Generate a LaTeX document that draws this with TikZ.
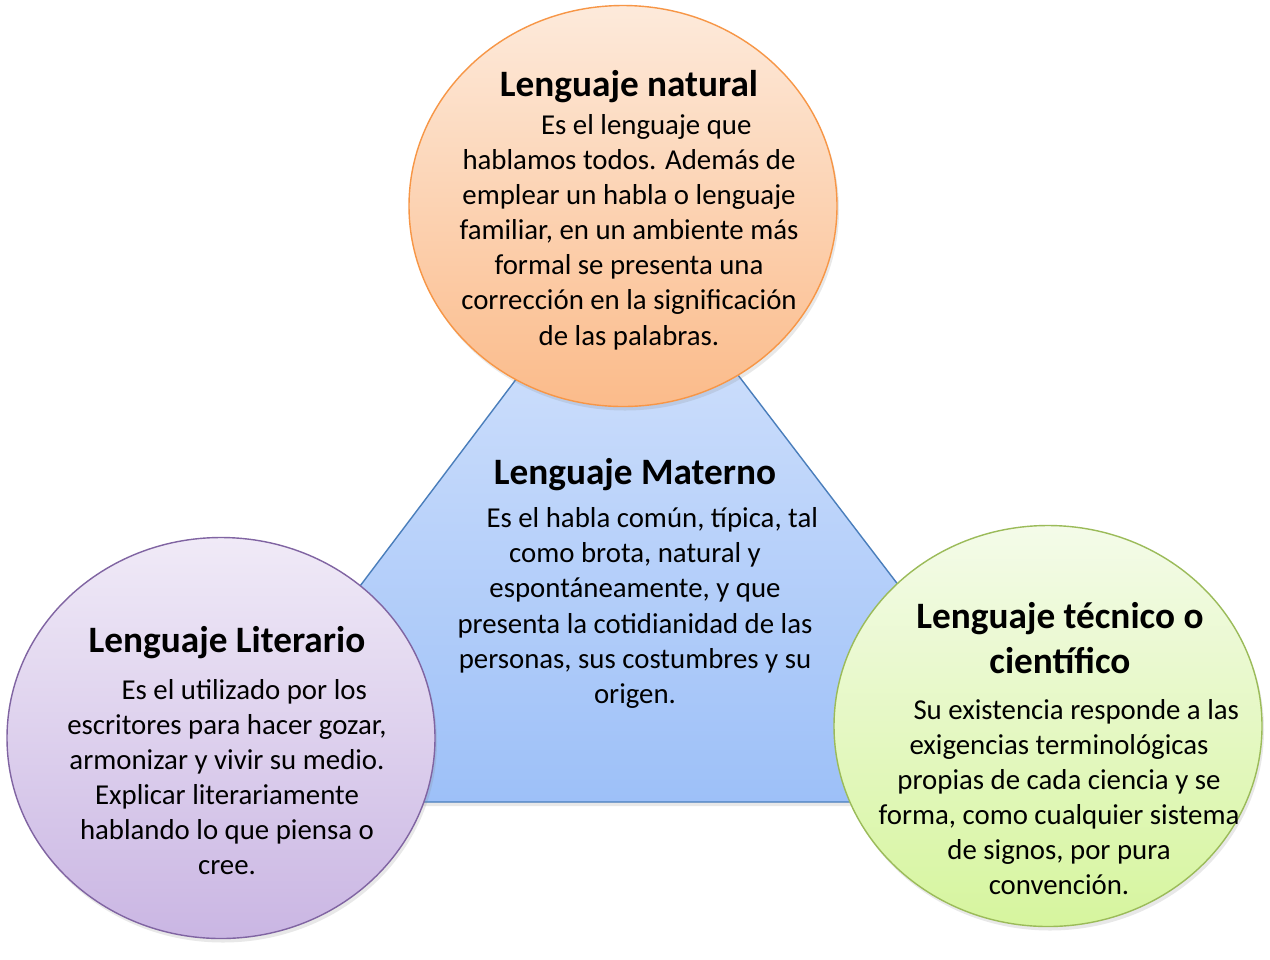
\documentclass[tikz,border=0pt]{standalone}
\usepackage{fontspec}
\setmainfont{Carlito}
\usepackage{tikz}
\usetikzlibrary{shapes.geometric,shadows}
\usepackage{xcolor}
\definecolor{natline}{RGB}{247,150,70}
\definecolor{nattop}{RGB}{253,234,219}
\definecolor{natbot}{RGB}{251,187,138}
\definecolor{matline}{RGB}{74,126,187}
\definecolor{mattop}{RGB}{217,230,252}
\definecolor{matbot}{RGB}{157,192,248}
\definecolor{litline}{RGB}{128,100,162}
\definecolor{littop}{RGB}{240,234,247}
\definecolor{litbot}{RGB}{202,182,227}
\definecolor{tecline}{RGB}{155,187,89}
\definecolor{tectop}{RGB}{244,251,233}
\definecolor{tecbot}{RGB}{214,245,158}
\tikzstyle{soft shadow}=[drop shadow={opacity=0.18,shadow xshift=0.4mm,shadow yshift=-0.8mm}]
\tikzstyle{bubble}=[ellipse,draw,line width=0.8pt,minimum width=85.6mm,minimum height=80.2mm,soft shadow]
\tikzstyle{title text}=[font=\fontsize{21.2}{25.6}\selectfont\bfseries,align=center,inner sep=0pt]
\tikzstyle{body text}=[font=\fontsize{16.4}{20}\selectfont,align=center,inner sep=0pt]
\newcommand{\firstindent}{\hspace*{1.2em}}

\begin{document}
\begin{tikzpicture}[x=0.2mm,y=-0.2mm]
  \fill[white] (0,0) rectangle (1270,959);
  \useasboundingbox (0,0) rectangle (1270,959);

  % TRIANGLE
  \coordinate (apex) at (628,231);
  \coordinate (left) at (197,802);
  \coordinate (right) at (1064,802);
  \draw[matline,line width=0.8pt,top color=mattop,bottom color=matbot,soft shadow]
    (apex) -- (left) -- (right) -- cycle;

  % CIRCLES
  \node[bubble,natline,top color=nattop,bottom color=natbot] (natural) at (623,206) {};
  \node[bubble,litline,top color=littop,bottom color=litbot] (literario) at (221,738) {};
  \node[bubble,tecline,top color=tectop,bottom color=tecbot] (tecnico) at (1048,726) {};

  % TEXTS
  \node[title text] (natTitle) at (629,87) {Lenguaje natural};
  \node[body text] (natText) at (629,232) {\firstindent Es el lenguaje que\\
    hablamos todos. Además de\\ emplear un habla o lenguaje\\
    familiar, en un ambiente más\\ formal se presenta una\\
    corrección en la significación\\ de las palabras.};

  \node[title text] (matTitle) at (635,475) {Lenguaje Materno};
  \node[body text] (matText) at (635,608) {\firstindent Es el habla común, típica, tal\\
    como brota, natural y\\ espontáneamente, y que\\
    presenta la cotidianidad de las\\ personas, sus costumbres y su\\ origen.};

  \node[title text] (litTitle) at (227,643) {Lenguaje Literario};
  \node[body text] (litText) at (227,777) {\firstindent Es el utilizado por los\\
    escritores para hacer gozar,\\ armonizar y vivir su medio.\\
    Explicar literariamente\\ hablando lo que piensa o\\ cree.};

  \node[title text] (tecTitle) at (1060,638) {Lenguaje técnico o\\ científico};
  \node[body text] (tecText) at (1059,797) {\firstindent Su existencia responde a las\\
    exigencias terminológicas\\ propias de cada ciencia y se\\
    forma, como cualquier sistema\\ de signos, por pura\\ convención.};
\end{tikzpicture}
\end{document}
